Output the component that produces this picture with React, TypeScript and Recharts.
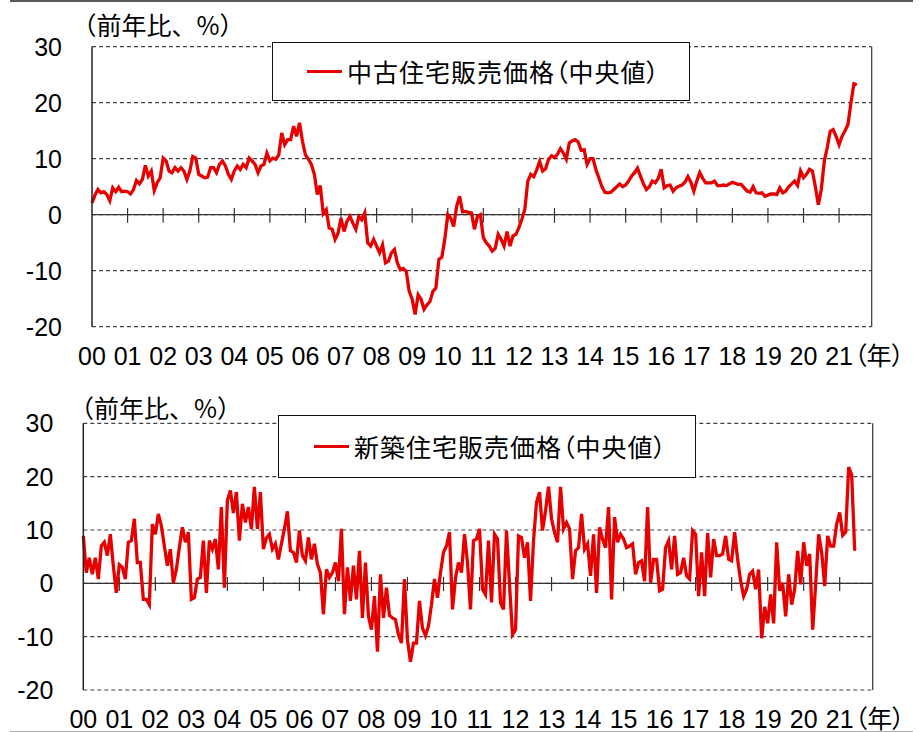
import { LineChart, Line, XAxis, YAxis, CartesianGrid, ReferenceLine, Legend } from 'recharts'

// 年次ラベル（月次データ、2000年1月 = 0）
const yearLabels = ['00', '01', '02', '03', '04', '05', '06', '07', '08', '09', '10',
    '11', '12', '13', '14', '15', '16', '17', '18', '19', '20', '21']
const yearTicks = [0, 12, 24, 36, 48, 60, 72, 84, 96, 108, 120,
    132, 144, 156, 168, 180, 192, 204, 216, 228, 240, 252]
const valueTicks = [-20, -10, 0, 10, 20, 30]

// 中古住宅販売価格（中央値）前年比、%
const usedHomePrice = [
    2.1, 3.5, 4.5, 3.9, 4.1, 3.6, 2.5, 4.8, 4.1, 4.9, 4.1, 4.2,
    4.1, 3.7, 4.5, 6.1, 5.5, 6.3, 8.8, 6.9, 7.8, 4.3, 5.7, 6.6,
    10.1, 9.6, 7.8, 7.5, 8.4, 7.8, 8.4, 7.8, 6.3, 7.8, 10.4, 10.1,
    7.2, 6.9, 6.6, 6.7, 8.4, 8.4, 7.5, 9.0, 9.6, 8.7, 7.2, 6.3,
    7.8, 8.7, 8.1, 9.0, 8.4, 10.1, 9.6, 9.0, 7.5, 8.7, 9.0, 11.0,
    9.6, 10.1, 9.9, 10.7, 14.6, 12.5, 13.4, 13.4, 15.8, 14.0, 16.4, 13.1,
    10.7, 9.9, 9.0, 7.2, 3.6, 5.2, 0.2, 0.9, -2.4, -2.6, -4.4, -3.3,
    -0.6, -3.0, -1.2, -0.3, -1.5, -2.6, -0.3, -0.9, 0.3, -5.0, -5.6, -4.4,
    -5.6, -6.8, -5.4, -8.6, -8.3, -6.8, -6.2, -8.6, -9.8, -9.6, -10.1, -13.7,
    -15.1, -17.8, -14.3, -15.1, -16.9, -16.1, -15.5, -13.7, -13.1, -8.0, -7.6, -4.4,
    0.0, -0.6, -2.1, 1.5, 3.3, 0.5, 0.6, 0.4, 0.3, -2.6, -0.3, 0.0,
    -4.1, -5.0, -5.6, -6.5, -6.0, -3.5, -4.4, -5.6, -3.0, -5.6, -3.8, -3.5,
    -2.3, -0.8, 1.0, 6.0, 7.2, 6.8, 8.0, 9.5, 7.8, 8.2, 9.9, 10.5,
    10.2, 10.8, 11.8, 11.0, 9.9, 12.8, 13.2, 13.4, 13.0, 11.5, 11.6, 9.0,
    10.0, 10.0, 8.0, 6.5, 5.0, 4.0, 3.9, 4.0, 4.5, 5.0, 5.5, 5.0,
    5.3, 6.0, 6.9, 7.5, 8.3, 6.9, 5.5, 4.5, 5.0, 6.0, 5.7, 6.5,
    8.1, 4.8, 5.2, 5.3, 4.2, 4.8, 5.1, 5.3, 5.8, 6.8, 5.8, 4.2,
    6.0, 7.5, 6.5, 5.7, 5.7, 5.7, 6.0, 5.2, 5.2, 5.3, 5.2, 5.5,
    5.8, 5.6, 5.4, 5.4, 4.8, 4.2, 4.0, 5.0, 3.9, 3.8, 3.9, 3.3,
    3.5, 3.7, 3.7, 3.6, 4.8, 3.9, 4.2, 5.0, 5.5, 6.0, 5.2, 7.8,
    6.6, 7.2, 8.1, 7.8, 5.0, 1.8, 4.5, 9.5, 12.0, 14.9, 15.2, 14.0,
    12.5, 14.0, 15.0, 16.1, 20.0, 23.4, 23.2,
]

// 新築住宅販売価格（中央値）前年比、%
const newHomePrice = [
    8.9, 2.0, 4.8, 1.7, 4.8, 0.8, 7.0, 7.7, 5.2, 9.2, 3.3, -1.8,
    3.5, 3.0, 0.8, 7.7, 8.0, 12.1, 3.9, 3.9, -3.0, -3.0, -4.0, 11.1,
    9.2, 13.0, 10.8, 7.0, 3.3, 6.4, 0.1, 2.6, 6.7, 10.5, 7.7, 9.6,
    -3.0, -2.7, 0.8, 1.1, 8.0, -1.8, 8.0, 6.4, 8.3, 2.6, 14.3, -0.8,
    15.5, 17.4, 13.2, 17.1, 8.0, 14.9, 11.4, 14.3, 10.2, 18.1, 10.2, 17.1,
    6.4, 8.5, 9.2, 6.4, 7.4, 4.5, 7.4, 10.2, 13.5, 6.1, 5.8, 3.9,
    9.9, 5.2, 4.2, 8.6, 4.5, 7.4, 3.6, 2.0, -5.8, 2.6, 1.1, 2.0,
    3.9, 0.4, 10.2, -5.8, 3.0, -3.3, 3.3, -3.0, 6.1, -6.5, 3.9, -6.2,
    -8.7, -2.4, -12.8, 1.7, -6.5, -0.8, -6.0, -6.5, -6.8, -9.6, -11.2, 0.8,
    -10.6, -14.7, -11.2, -11.2, -3.3, -8.4, -9.8, -8.0, -4.0, 0.8, -2.7, 2.0,
    5.8, 7.0, 9.6, -4.9, 1.0, 3.9, 2.0, 9.2, 3.9, -4.9, 8.0, 8.3,
    10.2, -1.1, -2.1, 8.0, -3.6, 9.2, 8.3, -3.6, -4.9, 9.9, -0.2, -9.6,
    -8.7, 8.9, 8.6, 4.8, 7.7, -3.3, 8.0, 15.2, 17.1, 9.9, 13.6, 18.1,
    12.1, 9.5, 7.7, 18.1, 10.2, 11.4, 10.2, 0.8, 6.1, 6.7, 13.0, 6.4,
    7.4, 1.4, 9.2, -1.8, 10.5, 8.3, 6.7, 14.3, -3.0, 12.4, 7.7, 9.2,
    8.3, 6.7, 7.0, 7.4, 1.7, 3.9, 4.2, 0.4, 14.3, 0.1, 4.5, 4.5,
    -1.4, -1.1, 6.7, 8.0, 2.6, 8.9, 1.7, 2.0, 4.8, 1.4, 0.8, 9.9,
    9.2, -2.4, 5.8, -2.4, 9.4, 1.1, 8.3, 5.2, 5.2, 5.5, 8.9, 4.5,
    4.2, 9.6, 4.5, 0.5, -2.4, -1.1, 1.7, 2.3, -1.1, 2.6, -10.3, -4.4,
    -7.5, -2.1, -7.5, 7.7, -1.4, 0.1, -6.2, 1.7, -4.0, -1.1, 6.1, -0.2,
    7.7, 3.3, 5.5, -8.7, -0.2, 9.2, 5.8, -0.5, 8.9, 7.0, 7.0, 11.1,
    13.3, 9.0, 9.6, 21.8, 20.3, 6.1,
]

const LINE_RED = '#E60000'
const NUM_FONT = '"Liberation Sans", Arial, sans-serif'
const JP_FONT = '"Noto Sans CJK JP", sans-serif'
const X_END = 263

const toRows = (values: number[]) => values.map((v, i) => ({ m: i, v }))

const YearTick = ({ x, y, payload }: any) => {
    const idx = yearTicks.indexOf(payload.value)
    const isLast = idx === yearTicks.length - 1
    return (
        <g>
            <text x={x} y={y} dy={38} textAnchor="middle" fontSize={25} fontFamily={NUM_FONT} fill="#000">
                {yearLabels[idx]}
            </text>
            {isLast && (
                <text x={x + 15} y={y} dy={38} fontSize={25} fontFamily={JP_FONT} fill="#000"
                    style={{ fontFeatureSettings: '"palt"' }}>
                    （年）
                </text>
            )}
        </g>
    )
}

const LegendBox = ({ payload, lineLeft }: any) => {
    const item = payload && payload[0]
    if (!item) return null
    return (
        <div style={{
            boxSizing: 'border-box', width: '100%', height: '100%', border: '1px solid #111',
            background: '#fff', display: 'flex', alignItems: 'center', paddingLeft: lineLeft
        }}>
            <span style={{ display: 'inline-block', width: 35, height: 3.5, background: item.color, marginRight: 5 }} />
            <span style={{
                fontFamily: JP_FONT, fontSize: 25, color: '#000', lineHeight: 1, letterSpacing: 1,
                fontFeatureSettings: '"palt"', whiteSpace: 'nowrap'
            }}>
                {item.value}
            </span>
        </div>
    )
}

interface PanelProps {
    values: number[]
    name: string
    height: number
    margin: { top: number, right: number, bottom: number, left: number }
    legend: { left: number, top: number, width: number, height: number, lineLeft: number }
}

function PricePanel({ values, name, height, margin, legend }: PanelProps) {
    const data = toRows(values)
    return (
        <LineChart width={920} height={height} data={data} margin={margin}>
            <CartesianGrid vertical={false} stroke="#444" strokeDasharray="4 3" strokeWidth={1.2} />
            <XAxis
                dataKey="m"
                type="number"
                domain={[0, X_END]}
                ticks={yearTicks}
                interval={0}
                tick={<YearTick />}
                tickLine={false}
                axisLine={false}
                tickSize={0}
                tickMargin={0}
                height={30}
            />
            <YAxis
                type="number"
                domain={[-20, 30]}
                ticks={valueTicks}
                interval={0}
                width={60}
                tickLine={false}
                tickSize={0}
                tickMargin={30}
                axisLine={{ stroke: '#222', strokeWidth: 1.5 }}
                tick={{ fontSize: 25, fill: '#000', fontFamily: NUM_FONT }}
            />
            <ReferenceLine x={X_END} stroke="#333" strokeWidth={1.2} />
            <ReferenceLine y={0} stroke="#333" strokeWidth={1.3} />
            {yearTicks.slice(1).map((t) => (
                <ReferenceLine key={t} segment={[{ x: t, y: 1.2 }, { x: t, y: -1.45 }]} stroke="#333" strokeWidth={1.2} />
            ))}
            <Legend
                layout="vertical"
                align="center"
                verticalAlign="middle"
                content={<LegendBox lineLeft={legend.lineLeft} />}
                wrapperStyle={{ left: legend.left, top: legend.top, width: legend.width, height: legend.height }}
            />
            <Line
                type="linear"
                dataKey="v"
                name={name}
                stroke={LINE_RED}
                strokeWidth={3.3}
                dot={false}
                isAnimationActive={false}
            />
        </LineChart>
    )
}

export default function App() {
    return (
        <div style={{ position: 'absolute', left: 0, top: 0, width: 920, height: 732, overflow: 'hidden', background: '#fff' }}>
            <div style={{ position: 'absolute', left: 10, top: 0, width: 903, height: 2, background: '#595959' }} />

            <div style={{ position: 'absolute', left: 0, top: 0 }}>
                <PricePanel
                    values={usedHomePrice}
                    name="中古住宅販売価格（中央値）"
                    height={380}
                    margin={{ top: 46.7, right: 48.3, bottom: 23.3, left: 32 }}
                    legend={{ left: 272, top: 42, width: 418, height: 59, lineLeft: 34 }}
                />
            </div>

            <div style={{ position: 'absolute', left: 0, top: 380 }}>
                <PricePanel
                    values={newHomePrice}
                    name="新築住宅販売価格（中央値）"
                    height={360}
                    margin={{ top: 43.3, right: 47.3, bottom: 20, left: 23.3 }}
                    legend={{ left: 278, top: 35, width: 418, height: 63, lineLeft: 35 }}
                />
            </div>

            <svg width={920} height={732} style={{ position: 'absolute', left: 0, top: 0, pointerEvents: 'none' }}>
                <text x={71.5} y={35} fontSize={25} fontFamily={JP_FONT} fill="#000">（前年比、%）</text>
                <text x={69} y={417.5} fontSize={25} fontFamily={JP_FONT} fill="#000">（前年比、%）</text>
            </svg>

            <div style={{ position: 'absolute', left: 10, top: 731, width: 903, height: 1, background: '#b0b0b0' }} />
        </div>
    )
}
